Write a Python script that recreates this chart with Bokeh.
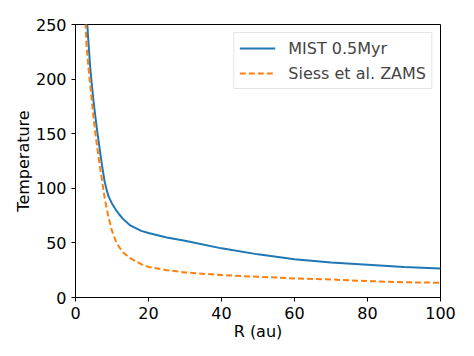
from bokeh.plotting import figure
from bokeh.models import Range1d, Legend, LegendItem
from bokeh.embed import file_html
from bokeh.resources import INLINE

# MIST 0.5Myr
r_mist = [2.8, 3, 3.5, 4, 4.5, 5, 5.5, 6, 6.5, 7, 7.5, 8, 8.5, 9, 10, 11, 12, 13, 15, 18, 20, 25, 30, 40, 50, 60, 70, 80, 90, 100]
t_mist = [275, 262, 236, 212, 194, 178, 164, 151, 139, 127, 116, 106, 99, 93, 86, 80.5, 76, 72, 66, 61, 59, 55, 52, 45, 39.5, 35, 32, 30, 28, 26.5]

# Siess et al. ZAMS
r_siess = [2.5, 3, 3.5, 4, 4.5, 5, 5.5, 6, 6.5, 7, 7.5, 8, 9, 10, 11, 12, 13, 15, 18, 20, 25, 30, 40, 50, 60, 70, 80, 90, 100]
t_siess = [268, 232, 212, 196, 179, 163, 149, 136, 124, 113, 102, 91, 74, 61, 52, 46, 41.5, 36, 30.5, 28, 25, 23, 20.5, 19, 17.5, 16.5, 15, 14, 13.5]

x_ticks = [0, 20, 40, 60, 80, 100]
y_ticks = [0, 50, 100, 150, 200, 250]

FONT = "DejaVu Sans"

p = figure(width=466, height=348, output_backend="svg", toolbar_location=None,
           x_range=Range1d(0, 100), y_range=Range1d(0, 250),
           min_border_left=75, min_border_right=26, min_border_top=24, min_border_bottom=51)

l1 = p.line(r_mist, t_mist, line_color="#1f77b4", line_width=2)
l2 = p.line(r_siess, t_siess, line_color="#ff7f0e", line_width=2, line_dash="6 3")

p.xgrid.visible = False
p.ygrid.visible = False
p.outline_line_color = "black"
p.outline_line_width = 1

for ax in (p.xaxis[0], p.yaxis[0]):
    ax.major_label_text_font = FONT
    ax.major_label_text_font_size = "16px"
    ax.major_label_text_color = "black"
    ax.axis_label_text_font = FONT
    ax.axis_label_text_font_size = "16px"
    ax.axis_label_text_font_style = "normal"
    ax.axis_label_text_color = "black"
    ax.minor_tick_line_color = None
    ax.major_tick_out = 4
    ax.major_tick_in = 0
    ax.axis_line_color = "black"
    ax.major_tick_line_color = "black"

p.xaxis.ticker = x_ticks
p.yaxis.ticker = y_ticks
p.xaxis.axis_label = "R (au)"
p.yaxis.axis_label = "Temperature"
p.xaxis.axis_label_standoff = 0
p.yaxis.axis_label_standoff = 0

legend = Legend(items=[LegendItem(label="MIST 0.5Myr", renderers=[l1]),
                       LegendItem(label="Siess et al. ZAMS", renderers=[l2])],
                location="top_right")
legend.margin = 8
legend.label_text_font = FONT
legend.label_text_font_size = "16px"
legend.glyph_width = 36
legend.glyph_height = 20
legend.label_height = 20
legend.spacing = 5
legend.padding = 5
legend.label_standoff = 13
legend.border_line_color = "#cccccc"
legend.border_line_width = 1
legend.background_fill_alpha = 0.8
p.add_layout(legend)

open("out.html", "w").write(file_html(p, INLINE))
